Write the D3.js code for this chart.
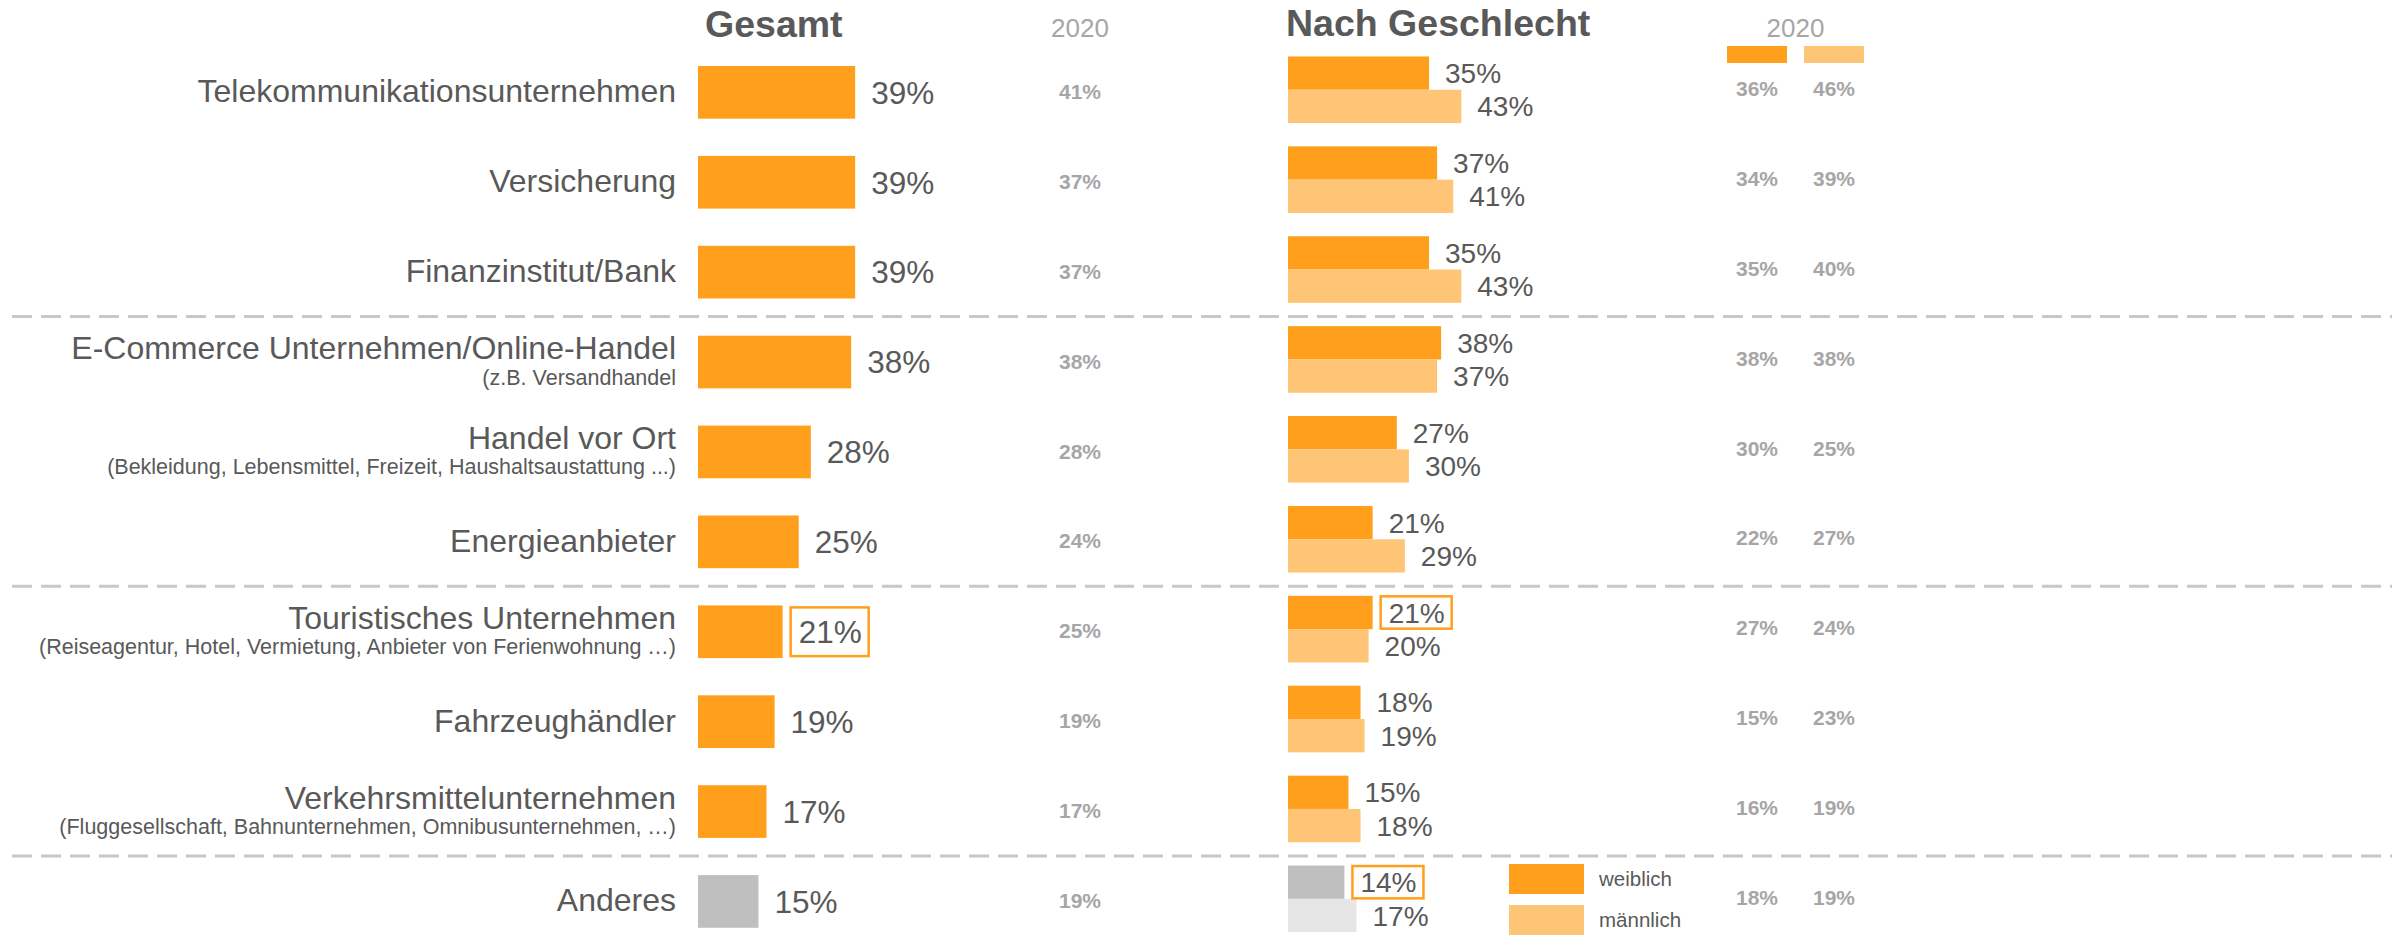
<!DOCTYPE html>
<html>
<head>
<meta charset="utf-8">
<script src="https://cdn.jsdelivr.net/npm/d3@7"></script>
<style>
  html, body { margin: 0; padding: 0; background: #fff; }
  svg { display: block; font-family: "Liberation Sans", Arial, sans-serif; }
</style>
</head>
<body>
<svg width="2392" height="935"></svg>
<script>
const width = 2392;
const height = 935;

// categories (main label + optional sub label)
const categories = [
  'Telekommunikationsunternehmen', 'Versicherung', 'Finanzinstitut/Bank',
  'E-Commerce Unternehmen/Online-Handel', 'Handel vor Ort', 'Energieanbieter',
  'Touristisches Unternehmen', 'Fahrzeughändler', 'Verkehrsmittelunternehmen', 'Anderes'
];
const subLabels = [
  '', '', '',
  '(z.B. Versandhandel', '(Bekleidung, Lebensmittel, Freizeit, Haushaltsaustattung ...)', '',
  '(Reiseagentur, Hotel, Vermietung, Anbieter von Ferienwohnung …)', '',
  '(Fluggesellschaft, Bahnunternehmen, Omnibusunternehmen, …)', ''
];

const gesamt = [39, 39, 39, 38, 28, 25, 21, 19, 17, 15];
const gesamt2020 = [41, 37, 37, 38, 28, 24, 25, 19, 17, 19];
const weiblich = [35, 37, 35, 38, 27, 21, 21, 18, 15, 14];
const maennlich = [43, 41, 43, 37, 30, 29, 20, 19, 18, 17];
const weiblich2020 = [36, 34, 35, 38, 30, 22, 27, 15, 16, 18];
const maennlich2020 = [46, 39, 40, 38, 25, 27, 24, 23, 19, 19];

// rows after which a dashed separator is drawn
const groupEnds = ['Finanzinstitut/Bank', 'Energieanbieter', 'Verkehrsmittelunternehmen'];
// values with an orange frame
const boxGesamt = ['Touristisches Unternehmen'];
const boxWeiblich = ['Touristisches Unternehmen', 'Anderes'];

const orange = '#ff9f1c';
const lightOrange = '#ffc577';
const grey = '#bfbfbf';
const lightGrey = '#e6e6e6';
const textColor = '#595959';
const textLight = '#a6a6a6';

const svg = d3.select('svg');

const y = d3.scaleBand()
  .domain(categories)
  .range([47.4, 946.4])
  .paddingInner(0.414)
  .paddingOuter(0.207);

const x = d3.scaleLinear().domain([0, 10]).range([0, 40.3]);

const gesamtX0 = 698;
const genderX0 = 1288;
const col2020 = 1080;
const colW2020 = 1757;
const colM2020 = 1834;

const rows = categories.map((c, i) => ({
  cat: c, sub: subLabels[i], g: gesamt[i], g20: gesamt2020[i],
  w: weiblich[i], m: maennlich[i], w20: weiblich2020[i], m20: maennlich2020[i],
  other: c === 'Anderes'
}));

// headers
svg.append('text').attr('x', 705).attr('y', 37)
  .attr('font-size', 37.5).attr('font-weight', 'bold').attr('fill', textColor).text('Gesamt');
svg.append('text').attr('x', 1286).attr('y', 36)
  .attr('font-size', 37.5).attr('font-weight', 'bold').attr('fill', textColor).text('Nach Geschlecht');
svg.append('text').attr('x', col2020).attr('y', 37).attr('text-anchor', 'middle')
  .attr('font-size', 26).attr('fill', textLight).text('2020');
svg.append('text').attr('x', (colW2020 + colM2020) / 2).attr('y', 37).attr('text-anchor', 'middle')
  .attr('font-size', 26).attr('fill', textLight).text('2020');
svg.append('rect').attr('x', colW2020 - 30).attr('y', 46).attr('width', 60).attr('height', 17).attr('fill', orange);
svg.append('rect').attr('x', colM2020 - 30).attr('y', 46).attr('width', 60).attr('height', 17).attr('fill', lightOrange);

// separators
svg.append('g').selectAll('line')
  .data(groupEnds)
  .join('line')
  .attr('x1', 12).attr('x2', width)
  .attr('y1', d => y(d) + y.bandwidth() + y.step() * 0.207 - 0.5)
  .attr('y2', d => y(d) + y.bandwidth() + y.step() * 0.207 - 0.5)
  .attr('stroke', '#c8c8c8').attr('stroke-width', 3).attr('stroke-dasharray', '20 9');

const row = svg.append('g').selectAll('g')
  .data(rows)
  .join('g')
  .attr('transform', d => `translate(0,${y(d.cat) + y.bandwidth() / 2})`);

// category labels
row.append('text')
  .attr('x', 676)
  .attr('y', d => d.sub ? -3 : 10)
  .attr('text-anchor', 'end')
  .attr('font-size', 32)
  .attr('fill', textColor)
  .text(d => d.cat);
row.filter(d => d.sub).append('text')
  .attr('x', 676).attr('y', 22.5)
  .attr('text-anchor', 'end')
  .attr('font-size', 21.5)
  .attr('fill', textColor)
  .text(d => d.sub);

// Gesamt bars
row.append('rect')
  .attr('x', gesamtX0)
  .attr('y', -y.bandwidth() / 2)
  .attr('width', d => x(d.g))
  .attr('height', y.bandwidth())
  .attr('fill', d => d.other ? grey : orange);

function boxedLabel(sel, xPos, yPos, size, txt, boxed, boxH) {
  const g = sel.append('g');
  const t = g.append('text')
    .attr('x', xPos).attr('y', yPos)
    .attr('dy', '0.36em')
    .attr('font-size', size)
    .attr('fill', textColor)
    .text(txt);
  if (boxed) {
    const bb = t.node().getBBox();
    g.insert('rect', 'text')
      .attr('x', bb.x - 8).attr('y', yPos - boxH / 2)
      .attr('width', bb.width + 15).attr('height', boxH)
      .attr('fill', '#fff')
      .attr('stroke', orange).attr('stroke-width', 2.5);
  }
}

row.each(function(d) {
  const r = d3.select(this);
  boxedLabel(r, gesamtX0 + x(d.g) + 16, 0, 31.5, d.g + '%', boxGesamt.includes(d.cat), y.bandwidth() - 4);
});

// 2020 Gesamt
row.append('text')
  .attr('x', col2020).attr('y', -1)
  .attr('dy', '0.36em')
  .attr('text-anchor', 'middle')
  .attr('font-size', 21).attr('font-weight', 'bold')
  .attr('fill', textLight)
  .text(d => d.g20 + '%');

// gender bars
const gh = 33.3;
const gOff = -2.6;
row.append('rect')
  .attr('x', genderX0).attr('y', gOff - gh)
  .attr('width', d => x(d.w)).attr('height', gh)
  .attr('fill', d => d.other ? grey : orange);
row.append('rect')
  .attr('x', genderX0).attr('y', gOff)
  .attr('width', d => x(d.m)).attr('height', gh)
  .attr('fill', d => d.other ? lightGrey : lightOrange);

row.each(function(d) {
  const r = d3.select(this);
  boxedLabel(r, genderX0 + x(d.w) + 16, gOff - gh / 2, 28, d.w + '%', boxWeiblich.includes(d.cat), gh - 1);
  boxedLabel(r, genderX0 + x(d.m) + 16, gOff + gh / 2, 28, d.m + '%', false, gh);
});

// 2020 gender values
row.append('text')
  .attr('x', colW2020).attr('y', -4)
  .attr('dy', '0.36em').attr('text-anchor', 'middle')
  .attr('font-size', 21).attr('font-weight', 'bold')
  .attr('fill', textLight)
  .text(d => d.w20 + '%');
row.append('text')
  .attr('x', colM2020).attr('y', -4)
  .attr('dy', '0.36em').attr('text-anchor', 'middle')
  .attr('font-size', 21).attr('font-weight', 'bold')
  .attr('fill', textLight)
  .text(d => d.m20 + '%');

// legend
const legend = svg.append('g');
[['weiblich', orange, 864], ['männlich', lightOrange, 905]].forEach(([name, col, ly]) => {
  legend.append('rect').attr('x', 1509).attr('y', ly).attr('width', 75).attr('height', 30).attr('fill', col);
  legend.append('text').attr('x', 1599).attr('y', ly + 15).attr('dy', '0.36em')
    .attr('font-size', 20.5).attr('fill', textColor).text(name);
});
</script>
</body>
</html>
